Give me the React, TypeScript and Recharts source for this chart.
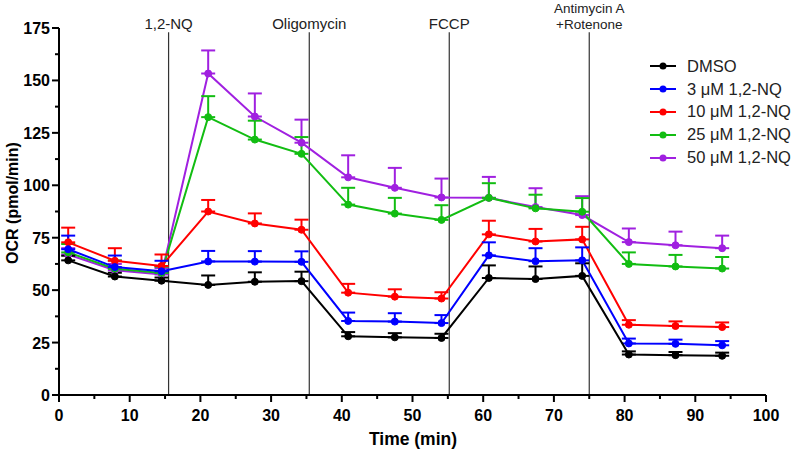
import React from 'react';
import { LineChart, Line, XAxis, YAxis, ErrorBar, ReferenceLine } from 'recharts';

const times = [1.3, 7.9, 14.5, 21.1, 27.7, 34.3, 40.9, 47.5, 54.1, 60.8, 67.4, 74.0, 80.6, 87.2, 93.8];

const dmso = [64.2, 56.5, 54.5, 52.5, 54, 54.3, 28, 27.5, 27.2, 55.8, 55.3, 56.8, 19.3, 19, 18.7];
const nq3 = [69.5, 61, 59, 63.7, 63.6, 63.5, 35.3, 35, 34.3, 66.6, 63.8, 64.2, 24.6, 24.4, 23.7];
const nq10 = [72.8, 64, 61.5, 87.5, 81.8, 78.8, 48.8, 46.9, 46, 76.6, 73.2, 74.2, 33.5, 32.9, 32.4];
const nq25 = [68, 60.2, 58.2, 132.5, 121.8, 115, 90.8, 86.5, 83.5, 94, 89, 87.4, 62.5, 61.3, 60.3];
const nq50 = [67, 59.5, 57.5, 153.3, 132.8, 120.3, 103.8, 98.8, 94.2, 94, 89.6, 85.8, 72.9, 71.4, 70];

const errDmso = [2.2, 1.8, 1.5, 4.5, 4.5, 4.5, 2, 2, 2, 6, 6, 6, 1.5, 1.5, 1.5];
const err3 = [6.5, 5.5, 5, 5, 5, 5, 4, 4, 3.8, 6.2, 6.2, 6.2, 2.3, 2, 2];
const err10 = [7, 6, 5.5, 5.5, 4.8, 4.8, 4.2, 3.5, 3, 6.5, 6, 6, 2.2, 2.2, 2.2];
const err25 = [4, 4, 3, 10, 9, 8, 8, 7.5, 7, 7, 6.5, 6.5, 5.5, 5.5, 5.5];
const err50 = [3, 3, 3, 11, 11, 11, 10.5, 9.5, 9, 10, 9, 9, 6.5, 6.5, 6];

const injTimes = [15.5, 35.4, 55.2, 75];
const injLabels = [['1,2-NQ'], ['Oligomycin'], ['FCCP'], ['Antimycin A', '+Rotenone']];

const xTicks = [0, 5, 10, 15, 20, 25, 30, 35, 40, 45, 50, 55, 60, 65, 70, 75, 80, 85, 90, 95, 100];
const yTicks = [0, 12.5, 25, 37.5, 50, 62.5, 75, 87.5, 100, 112.5, 125, 137.5, 150, 162.5, 175];

const seriesDefs = [
  { key: 'dmso', name: 'DMSO', color: '#000000', vals: dmso, errs: errDmso },
  { key: 'nq3', name: '3 \u03bcM 1,2-NQ', color: '#0000ff', vals: nq3, errs: err3 },
  { key: 'nq10', name: '10 \u03bcM 1,2-NQ', color: '#ff0000', vals: nq10, errs: err10 },
  { key: 'nq25', name: '25 \u03bcM 1,2-NQ', color: '#12bd12', vals: nq25, errs: err25 },
  { key: 'nq50', name: '50 \u03bcM 1,2-NQ', color: '#a020e0', vals: nq50, errs: err50 },
];

const data = times.map((t, i) => {
  const row: any = { t };
  seriesDefs.forEach((s) => {
    row[s.key] = s.vals[i];
    row[s.key + 'Err'] = [0, s.errs[i]];
  });
  return row;
});

const FONT = 'Arial, "Liberation Sans", sans-serif';

const XTick = (props: any) => {
  const { x, y, payload } = props;
  const major = payload.value % 10 === 0;
  return (
    <g>
      <line x1={x} y1={y} x2={x} y2={y + (major ? 7 : 4)} stroke="#000" strokeWidth={2} />
      {major && (
        <text x={x} y={y + 26} textAnchor="middle" fontFamily={FONT} fontWeight="bold" fontSize={16} fill="#000">
          {payload.value}
        </text>
      )}
    </g>
  );
};

const YTick = (props: any) => {
  const { x, y, payload } = props;
  const major = payload.value % 25 === 0;
  return (
    <g>
      <line x1={x} y1={y} x2={x - (major ? 7 : 4)} y2={y} stroke="#000" strokeWidth={2} />
      {major && (
        <text x={x - 9} y={y + 6} textAnchor="end" fontFamily={FONT} fontWeight="bold" fontSize={16} fill="#000">
          {payload.value}
        </text>
      )}
    </g>
  );
};

const makeLabel = (lines: string[]) => (props: any) => {
  const vb = props.viewBox || {};
  const cx = vb.x ?? 0;
  const top = vb.y ?? 0;
  const n = lines.length;
  const fs = n > 1 ? 13.5 : 15;
  return (
    <g>
      {lines.map((ln, i) => (
        <text
          key={i}
          x={cx}
          y={top - 3.5 - (n - 1 - i) * 15.5}
          textAnchor="middle"
          fontFamily={FONT}
          fontSize={fs}
          fill="#222"
        >
          {ln}
        </text>
      ))}
    </g>
  );
};

const LegendBox = () => (
  <div style={{ position: 'absolute', left: 650, top: 55, fontFamily: FONT, fontSize: 16.5, color: '#222' }}>
    {seriesDefs.map((s) => (
      <div key={s.key} style={{ display: 'flex', alignItems: 'center', height: 22.8, whiteSpace: 'nowrap' }}>
        <svg width={26} height={10} style={{ marginRight: 11 }}>
          <line x1={0} y1={5} x2={26} y2={5} stroke={s.color} strokeWidth={2} />
          <circle cx={13} cy={5} r={3.5} fill={s.color} />
        </svg>
        <span>{s.name}</span>
      </div>
    ))}
  </div>
);

const drawOrder = [...seriesDefs].reverse();

export default function App() {
  return (
    <div style={{ position: 'absolute', left: 0, top: 0, width: 800, height: 451, background: '#fff' }}>
      <LineChart width={800} height={451} data={data} margin={{ top: 28, right: 34, bottom: 26, left: 9 }}>
        <XAxis
          dataKey="t"
          type="number"
          domain={[0, 100]}
          ticks={xTicks}
          interval={0}
          tick={<XTick />}
          tickLine={false}
          tickSize={0}
          tickMargin={0}
          axisLine={{ stroke: '#000', strokeWidth: 2 }}
          height={30}
          allowDataOverflow
        />
        <YAxis
          type="number"
          domain={[0, 175]}
          ticks={yTicks}
          interval={0}
          tick={<YTick />}
          tickLine={false}
          tickSize={0}
          tickMargin={0}
          axisLine={{ stroke: '#000', strokeWidth: 2 }}
          width={50}
          allowDataOverflow
        />
        {injTimes.map((t, i) => (
          <ReferenceLine
            key={i}
            segment={[{ x: t, y: 0 }, { x: t, y: 173 }]}
            stroke="#333"
            strokeWidth={1.2}
            ifOverflow="visible"
            label={makeLabel(injLabels[i])}
          />
        ))}
        {drawOrder.map((s) => (
          <Line
            key={s.key}
            dataKey={s.key}
            name={s.name}
            stroke={s.color}
            strokeWidth={2}
            dot={{ r: 3.5, fill: s.color, stroke: s.color, strokeWidth: 1 }}
            isAnimationActive={false}
          >
            <ErrorBar dataKey={s.key + 'Err'} direction="y" width={7} strokeWidth={2} stroke={s.color} />
          </Line>
        ))}
        <text x={18} y={203} transform="rotate(-90 18 203)" textAnchor="middle" fontFamily={FONT} fontWeight="bold" fontSize={16} fill="#000">
          OCR (pmol/min)
        </text>
        <text x={413} y={445} textAnchor="middle" fontFamily={FONT} fontWeight="bold" fontSize={17.5} fill="#000">
          Time (min)
        </text>
      </LineChart>
      <LegendBox />
    </div>
  );
}
